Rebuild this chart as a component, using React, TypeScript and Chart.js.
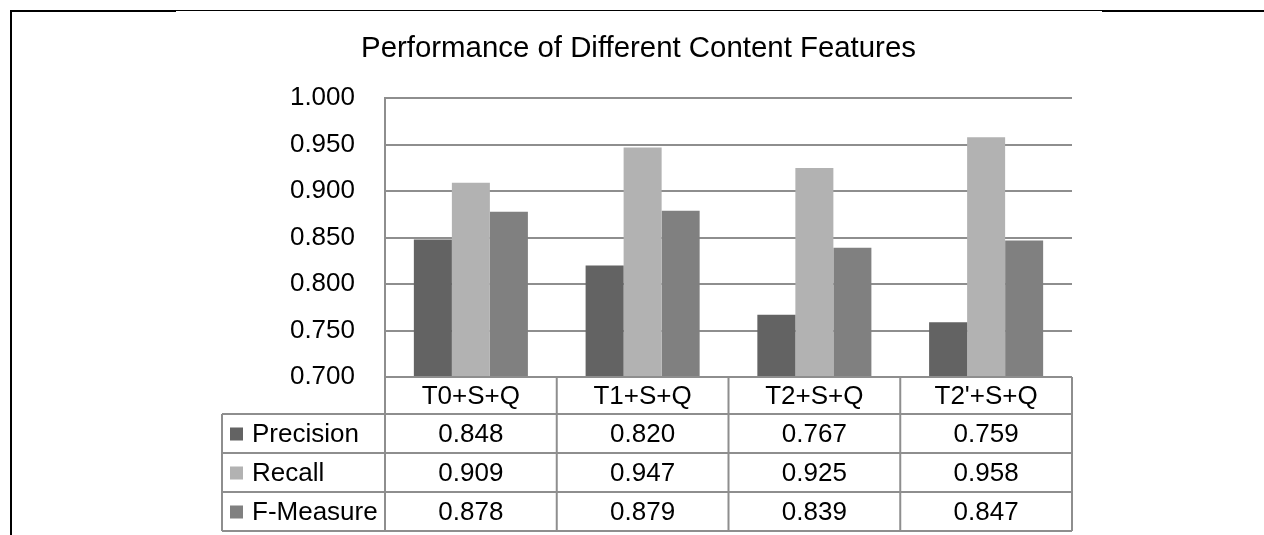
import React, { useEffect, useRef } from "react";
import { Chart, registerables } from "chart.js";

Chart.register(...registerables);

const title = "Performance of Different Content Features";
const categories = ["T0+S+Q", "T1+S+Q", "T2+S+Q", "T2'+S+Q"];
const seriesNames = ["Precision", "Recall", "F-Measure"];
const precision = [0.848, 0.82, 0.767, 0.759];
const recall = [0.909, 0.947, 0.925, 0.958];
const fMeasure = [0.878, 0.879, 0.839, 0.847];
const seriesColors = ["#636363", "#b2b2b2", "#808080"];
const yMin = 0.7;
const yMax = 1.0;
const yStep = 0.05;

const FONT = "'Liberation Sans', Arial, sans-serif";
const GRID = "#8e8e8e";

const tablePlugin = {
  id: "dataTable",
  afterDraw(chart: any) {
    const ctx = chart.ctx;
    const ca = chart.chartArea;
    const xs = chart.scales.x;
    const n = categories.length;
    const colW = (ca.right - ca.left) / n;
    const headerTop = ca.bottom;
    const headerH = 37;
    const rowH = 39;
    const legendLeft = ca.left - 163;
    const rowsTop = headerTop + headerH;
    const tableBottom = rowsTop + rowH * seriesNames.length;
    ctx.save();
    ctx.strokeStyle = GRID;
    ctx.lineWidth = 2;
    ctx.beginPath();
    ctx.moveTo(ca.left, headerTop);
    ctx.lineTo(ca.right, headerTop);
    for (let r = 0; r <= seriesNames.length; r++) {
      const y = rowsTop + r * rowH;
      ctx.moveTo(legendLeft, y);
      ctx.lineTo(ca.right, y);
    }
    ctx.moveTo(legendLeft, rowsTop);
    ctx.lineTo(legendLeft, tableBottom);
    for (let c = 0; c <= n; c++) {
      const x = ca.left + c * colW;
      ctx.moveTo(x, headerTop);
      ctx.lineTo(x, tableBottom);
    }
    ctx.stroke();

    ctx.font = `26px ${FONT}`;
    ctx.textBaseline = "middle";
    chart.data.datasets.forEach((ds: any, r: number) => {
      const cy = rowsTop + r * rowH + rowH / 2;
      ctx.fillStyle = ds.backgroundColor;
      ctx.fillRect(legendLeft + 8, cy - 6, 13, 13);
      ctx.fillStyle = "#000";
      ctx.textAlign = "left";
      ctx.fillText(ds.label, legendLeft + 30, cy + 1);
      ctx.textAlign = "center";
      ds.data.forEach((v: number, i: number) => {
        ctx.fillText(v.toFixed(3), xs.getPixelForValue(i), cy + 1);
      });
    });

    // page frame lines
    ctx.strokeStyle = "#000";
    ctx.lineWidth = 2;
    ctx.beginPath();
    ctx.moveTo(10, 11);
    ctx.lineTo(176, 11);
    ctx.moveTo(1102, 11);
    ctx.lineTo(1264, 11);
    ctx.moveTo(11, 10);
    ctx.lineTo(11, 535);
    ctx.stroke();
    ctx.lineWidth = 1;
    ctx.beginPath();
    ctx.moveTo(176, 10.5);
    ctx.lineTo(1102, 10.5);
    ctx.stroke();
    ctx.restore();
  },
};

export default function App() {
  const ref = useRef<HTMLCanvasElement>(null);
  useEffect(() => {
    if (!ref.current) return;
    const chart = new Chart(ref.current, {
      type: "bar",
      data: {
        labels: categories,
        datasets: [
          { label: seriesNames[0], data: precision, backgroundColor: seriesColors[0] },
          { label: seriesNames[1], data: recall, backgroundColor: seriesColors[1] },
          { label: seriesNames[2], data: fMeasure, backgroundColor: seriesColors[2] },
        ],
      },
      options: {
        animation: false,
        responsive: false,
        devicePixelRatio: 1,
        layout: { padding: { left: 175, right: 162, top: 0, bottom: 0 } },
        datasets: { bar: { categoryPercentage: 0.664, barPercentage: 1.0, borderWidth: 0 } },
        plugins: {
          legend: { display: false },
          tooltip: { enabled: false },
          title: {
            display: true,
            text: title,
            color: "#000",
            font: { family: FONT, size: 29.4, weight: "normal" },
            padding: { top: 31, bottom: 32 },
          },
        },
        scales: {
          x: {
            type: "category",
            grid: { display: false, drawTicks: false },
            border: { display: false },
            ticks: { color: "#000", font: { family: FONT, size: 26 }, padding: 4, maxRotation: 0 },
            afterFit: (s: any) => { s.height = 158; },
          },
          y: {
            position: "left",
            min: yMin,
            max: yMax,
            grid: { color: GRID, lineWidth: 2, drawTicks: false },
            border: { display: true, color: GRID, width: 2 },
            ticks: {
              stepSize: yStep,
              color: "#000",
              padding: 30,
              font: { family: FONT, size: 26 },
              callback: (v: any) => Number(v).toFixed(3),
            },
            afterFit: (s: any) => { s.width = 210; },
          },
          yR: {
            position: "right",
            display: true,
            grid: { display: false, drawTicks: false },
            border: { display: false },
            ticks: { display: false },
            afterFit: (s: any) => { s.width = 30; },
          },
        },
      },
      plugins: [tablePlugin],
    } as any);
    return () => chart.destroy();
  }, []);
  return (
    <div style={{ position: "absolute", left: 0, top: 0, width: 1264, height: 535, background: "#fff" }}>
      <canvas ref={ref} width={1264} height={535} style={{ display: "block", width: 1264, height: 535 }} />
    </div>
  );
}
